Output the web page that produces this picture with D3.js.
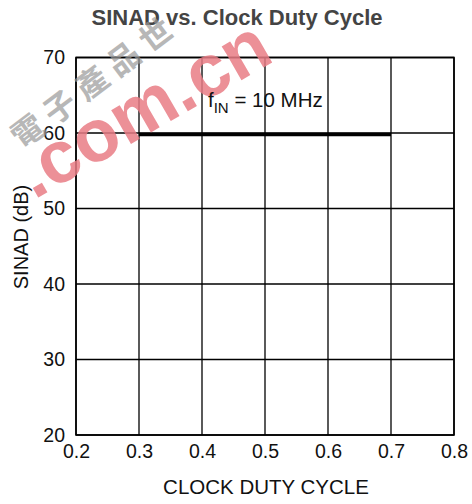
<!DOCTYPE html>
<html>
<head>
<meta charset="utf-8">
<script src="https://cdn.jsdelivr.net/npm/d3@7"></script>
<style>
  body { margin: 0; background: #fff; }
  svg { display: block; }
</style>
</head>
<body>
<div class="chart"></div>
<script>
// data
let dutyCycle = [0.3, 0.35, 0.4, 0.45, 0.5, 0.55, 0.6, 0.65, 0.7];
let sinad = [59.8, 59.8, 59.8, 59.8, 59.8, 59.8, 59.8, 59.8, 59.8];
let xTicks = [0.2, 0.3, 0.4, 0.5, 0.6, 0.7, 0.8];
let yTicks = [20, 30, 40, 50, 60, 70];

let margin = { top: 57.5, right: 18, bottom: 69, left: 76 };
let width = 472 - margin.left - margin.right;
let height = 504 - margin.top - margin.bottom;

let font = "Liberation Sans, Arial, sans-serif";

let svg = d3.select(".chart")
    .append("svg")
    .attr("width", 472)
    .attr("height", 504)
    .style("background-color", "white");

let g = svg.append("g")
    .attr("transform", "translate(" + margin.left + "," + margin.top + ")");

let x = d3.scaleLinear().domain([0.2, 0.8]).range([0, width]);
let y = d3.scaleLinear().domain([20, 70]).range([height, 0]);

// grid
g.append("g")
    .selectAll("line")
    .data(xTicks)
    .enter()
    .append("line")
    .attr("x1", d => x(d))
    .attr("x2", d => x(d))
    .attr("y1", 0)
    .attr("y2", height)
    .style("stroke", "#000")
    .style("stroke-width", 1.3);

g.append("g")
    .selectAll("line")
    .data(yTicks)
    .enter()
    .append("line")
    .attr("x1", 0)
    .attr("x2", width)
    .attr("y1", d => y(d))
    .attr("y2", d => y(d))
    .style("stroke", "#000")
    .style("stroke-width", 1.3);

g.append("rect")
    .attr("width", width)
    .attr("height", height)
    .style("fill", "none")
    .style("stroke", "#000")
    .style("stroke-width", 1.6);

// axes (labels only)
let xAxis = g.append("g")
    .attr("transform", "translate(0," + height + ")")
    .call(d3.axisBottom(x).tickValues(xTicks).tickSize(0).tickPadding(9).tickFormat(d3.format(".1f")));
xAxis.select(".domain").remove();
xAxis.selectAll("text")
    .style("font-family", font)
    .style("font-size", "19.5px")
    .style("fill", "#111");

let yAxis = g.append("g")
    .call(d3.axisLeft(y).tickValues(yTicks).tickSize(0).tickPadding(11).tickFormat(d3.format("d")));
yAxis.select(".domain").remove();
yAxis.selectAll("text")
    .style("font-family", font)
    .style("font-size", "19.5px")
    .style("fill", "#111");

// series
let line = d3.line()
    .x((d, i) => x(dutyCycle[i]))
    .y(d => y(d));

g.append("path")
    .datum(sinad)
    .attr("d", line)
    .style("fill", "none")
    .style("stroke", "#000")
    .style("stroke-width", 3.5);

// titles
svg.append("text")
    .attr("x", 237)
    .attr("y", 25)
    .attr("text-anchor", "middle")
    .text("SINAD vs. Clock Duty Cycle")
    .style("font-family", font)
    .style("font-weight", "bold")
    .style("font-size", "22px")
    .style("fill", "#444");

svg.append("text")
    .attr("x", 266)
    .attr("y", 494)
    .attr("text-anchor", "middle")
    .text("CLOCK DUTY CYCLE")
    .style("font-family", font)
    .style("font-size", "20.5px")
    .style("fill", "#111");

svg.append("text")
    .attr("transform", "translate(28,237) rotate(-90)")
    .attr("text-anchor", "middle")
    .text("SINAD (dB)")
    .style("font-family", font)
    .style("font-size", "20px")
    .style("fill", "#111");

// site watermark
let wm = svg.append("g").style("pointer-events", "none");
wm.append("text")
    .attr("transform", "translate(22,150) rotate(-37)")
    .text("電子產品世")
    .style("font-family", "Noto Sans CJK TC")
    .style("font-weight", "bold")
    .style("font-size", "32px")
    .style("letter-spacing", "8px")
    .style("fill", "#999")
    .style("opacity", 0.7);
wm.append("text")
    .attr("transform", "translate(34,200) rotate(-30)")
    .text(".com.cn")
    .style("font-family", font)
    .style("font-weight", "bold")
    .style("font-size", "74px")
    .style("fill", "#e97d86")
    .style("opacity", 0.85);

// annotation (drawn above the watermark)
let note = svg.append("text")
    .attr("x", 208)
    .attr("y", 107)
    .style("font-family", font)
    .style("font-size", "20.5px")
    .style("fill", "#111");
note.append("tspan").text("f");
note.append("tspan").attr("dy", 6).style("font-size", "15px").text("IN");
note.append("tspan").attr("dy", -6).text(" = 10 MHz");
</script>
</body>
</html>
